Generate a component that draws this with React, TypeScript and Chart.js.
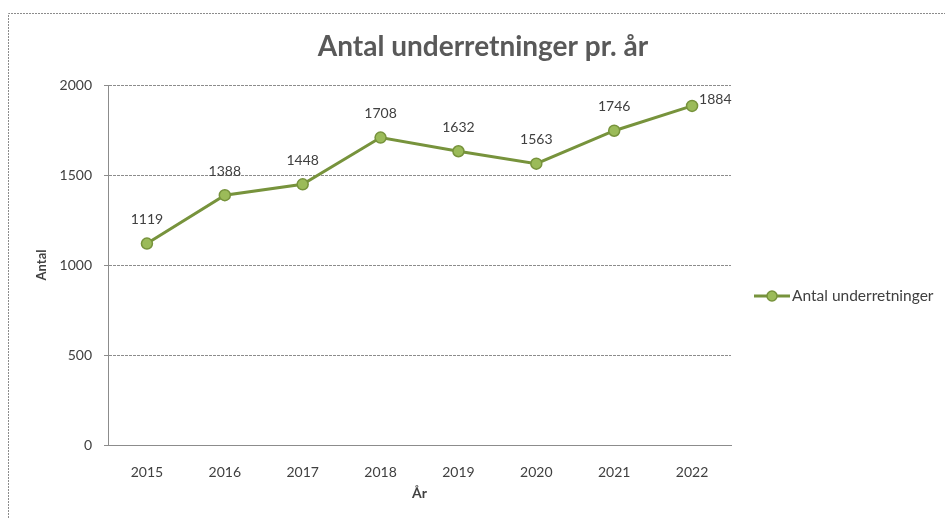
import React, { useEffect, useRef } from "react";
import { Chart, registerables } from "chart.js";

Chart.register(...registerables);

const years = ["2015", "2016", "2017", "2018", "2019", "2020", "2021", "2022"];
const counts = [1119, 1388, 1448, 1708, 1632, 1563, 1746, 1884];
const seriesName = "Antal underretninger";
const chartTitle = "Antal underretninger pr. år";
const yTitle = "Antal";
const xTitle = "År";

const FONT = "Lato, 'Open Sans', sans-serif";
const LINE = "#77933C";
const FILL = "#9BBB59";
const TEXT = "#404040";

const extras = {
  id: "extras",
  beforeDraw(chart: any) {
    const ctx = chart.ctx;
    ctx.save();
    ctx.strokeStyle = "#8c8c8c";
    ctx.lineWidth = 1;
    ctx.setLineDash([2, 1]);
    ctx.beginPath();
    ctx.moveTo(8.5, 518);
    ctx.lineTo(8.5, 13.5);
    ctx.lineTo(945, 13.5);
    ctx.stroke();
    ctx.restore();
    ctx.save();
    ctx.font = `bold 28px ${FONT}`;
    ctx.fillStyle = "#595959";
    ctx.textAlign = "center";
    ctx.textBaseline = "middle";
    ctx.fillText(chartTitle, 483, 47);
    ctx.restore();
  },
  afterDatasetsDraw(chart: any) {
    const ctx = chart.ctx;
    const meta = chart.getDatasetMeta(0);
    ctx.save();
    ctx.font = `14px ${FONT}`;
    ctx.fillStyle = TEXT;
    meta.data.forEach((pt: any, i: number) => {
      const v = String(chart.data.datasets[0].data[i]);
      if (i === meta.data.length - 1) {
        ctx.textAlign = "left";
        ctx.textBaseline = "middle";
        ctx.fillText(v, pt.x + 7, pt.y - 6);
      } else {
        ctx.textAlign = "center";
        ctx.textBaseline = "middle";
        ctx.fillText(v, pt.x, pt.y - 24);
      }
    });
    // legend
    const ly = 296;
    ctx.strokeStyle = LINE;
    ctx.lineWidth = 3;
    ctx.beginPath();
    ctx.moveTo(754, ly);
    ctx.lineTo(790, ly);
    ctx.stroke();
    ctx.beginPath();
    ctx.arc(772, ly, 5, 0, Math.PI * 2);
    ctx.fillStyle = FILL;
    ctx.fill();
    ctx.lineWidth = 1.5;
    ctx.stroke();
    ctx.fillStyle = TEXT;
    ctx.textAlign = "left";
    ctx.textBaseline = "middle";
    ctx.font = `15.5px ${FONT}`;
    ctx.fillText(seriesName, 792, ly);
    ctx.restore();
  },
};

export default function App() {
  const ref = useRef<HTMLCanvasElement>(null);
  useEffect(() => {
    if (!ref.current) return;
    const chart = new Chart(ref.current, {
      type: "line",
      data: {
        labels: years,
        datasets: [
          {
            label: seriesName,
            data: counts,
            borderColor: LINE,
            borderWidth: 3,
            backgroundColor: FILL,
            pointBackgroundColor: FILL,
            pointBorderColor: LINE,
            pointBorderWidth: 1.5,
            pointRadius: 5.5,
            tension: 0,
          },
        ],
      },
      options: {
        responsive: false,
        animation: false,
        layout: { padding: { left: 20, right: 214, top: 85, bottom: 10 } },
        plugins: {
          legend: { display: false },
          tooltip: { enabled: false },
          title: { display: false },
        },
        scales: {
          x: {
            offset: true,
            grid: { display: false },
            border: { display: true, color: "#8c8c8c", width: 1 },
            ticks: { color: TEXT, font: { family: FONT, size: 14 }, padding: 11 },
            title: {
              display: true,
              text: xTitle,
              color: TEXT,
              font: { family: FONT, size: 14, weight: "bold" },
              padding: { top: 0, bottom: 6 },
            },
            afterFit: (s: any) => {
              s.height = 63;
            },
          },
          y: {
            min: 0,
            max: 2000,
            ticks: {
              stepSize: 500,
              color: TEXT,
              font: { family: FONT, size: 14 },
              padding: 12,
              callback: (v: any) => String(v),
            },
            grid: { color: "#8c8c8c", drawTicks: true, tickLength: 4, tickColor: "#8c8c8c" },
            border: { display: true, color: "#8c8c8c", dash: [3, 1] },
            title: {
              display: true,
              text: yTitle,
              color: TEXT,
              font: { family: FONT, size: 13, weight: "bold" },
              padding: { top: 14, bottom: 0 },
            },
            afterFit: (s: any) => {
              s.width = 88;
            },
          },
        },
      },
      plugins: [extras],
    });
    return () => chart.destroy();
  }, []);
  return (
    <div style={{ position: "absolute", left: 0, top: 0, width: 945, height: 518, background: "#fff" }}>
      <canvas ref={ref} width={945} height={518} style={{ display: "block" }} />
    </div>
  );
}
